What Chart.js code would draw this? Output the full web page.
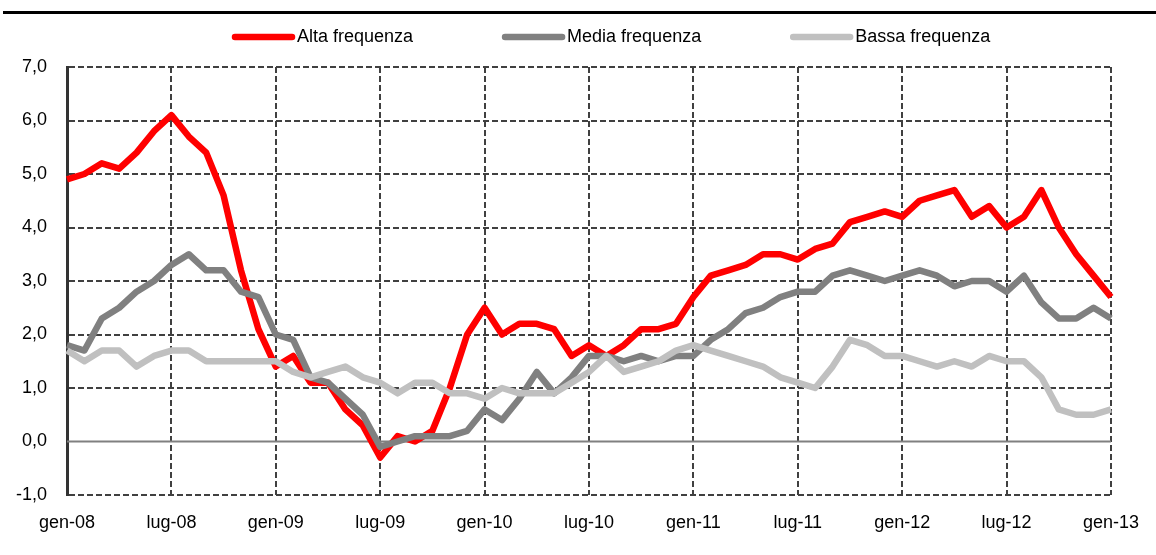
<!DOCTYPE html>
<html lang="it">
<head>
<meta charset="utf-8">
<title>Frequenza</title>
<script src="https://cdn.jsdelivr.net/npm/chart.js@4/dist/chart.umd.min.js"></script>
<style>
    body { margin: 0; background: #fff; }
    #contenitore { position: relative; width: 1156px; height: 555px; }
    #riga-titolo { position: absolute; left: 3px; right: 0; top: 11px; height: 3px; background: #000; }
</style>
</head>
<body>
<div id="contenitore">
    <canvas id="grafico" width="1156" height="555"></canvas>
    <div id="riga-titolo"></div>
</div>
<script>
// Mesi da gen-08 a gen-13
const mesi = ['gen', 'feb', 'mar', 'apr', 'mag', 'giu', 'lug', 'ago', 'set', 'ott', 'nov', 'dic'];
const anni = ['08', '09', '10', '11', '12', '13'];

const altaFrequenza = [
    4.9, 5.0, 5.2, 5.1, 5.4, 5.8, 6.1, 5.7, 5.4, 4.6, 3.2, 2.1,
    1.4, 1.6, 1.1, 1.1, 0.6, 0.3, -0.3, 0.1, 0.0, 0.2, 1.0, 2.0,
    2.5, 2.0, 2.2, 2.2, 2.1, 1.6, 1.8, 1.6, 1.8, 2.1, 2.1, 2.2,
    2.7, 3.1, 3.2, 3.3, 3.5, 3.5, 3.4, 3.6, 3.7, 4.1, 4.2, 4.3,
    4.2, 4.5, 4.6, 4.7, 4.2, 4.4, 4.0, 4.2, 4.7, 4.0, 3.5, 3.1,
    2.7
];
const mediaFrequenza = [
    1.8, 1.7, 2.3, 2.5, 2.8, 3.0, 3.3, 3.5, 3.2, 3.2, 2.8, 2.7,
    2.0, 1.9, 1.2, 1.1, 0.8, 0.5, -0.1, 0.0, 0.1, 0.1, 0.1, 0.2,
    0.6, 0.4, 0.8, 1.3, 0.9, 1.2, 1.6, 1.6, 1.5, 1.6, 1.5, 1.6,
    1.6, 1.9, 2.1, 2.4, 2.5, 2.7, 2.8, 2.8, 3.1, 3.2, 3.1, 3.0,
    3.1, 3.2, 3.1, 2.9, 3.0, 3.0, 2.8, 3.1, 2.6, 2.3, 2.3, 2.5,
    2.3
];
const bassaFrequenza = [
    1.7, 1.5, 1.7, 1.7, 1.4, 1.6, 1.7, 1.7, 1.5, 1.5, 1.5, 1.5,
    1.5, 1.3, 1.2, 1.3, 1.4, 1.2, 1.1, 0.9, 1.1, 1.1, 0.9, 0.9,
    0.8, 1.0, 0.9, 0.9, 0.9, 1.1, 1.3, 1.6, 1.3, 1.4, 1.5, 1.7,
    1.8, 1.7, 1.6, 1.5, 1.4, 1.2, 1.1, 1.0, 1.4, 1.9, 1.8, 1.6,
    1.6, 1.5, 1.4, 1.5, 1.4, 1.6, 1.5, 1.5, 1.2, 0.6, 0.5, 0.5,
    0.6
];

const categorie = [];
anni.forEach((anno, i) => {
    mesi.forEach(mese => {
        if (i < anni.length - 1 || mese === 'gen') categorie.push(mese + '-' + anno);
    });
});

const FONT = '"Liberation Sans", Arial, sans-serif';
const GRIGLIA = '#404040';

// legenda disegnata a mano: linee spesse e testo subito accanto
const legendaLinee = {
    id: 'legendaLinee',
    afterDraw(chart) {
        const ctx = chart.ctx;
        ctx.save();
        ctx.font = '18px ' + FONT;
        ctx.textBaseline = 'middle';
        let x = 235;
        const y = 37;
        chart.data.datasets.forEach(ds => {
            ctx.strokeStyle = ds.borderColor;
            ctx.lineWidth = 6.5;
            ctx.lineCap = 'round';
            ctx.beginPath();
            ctx.moveTo(x, y);
            ctx.lineTo(x + 57, y);
            ctx.stroke();
            ctx.fillStyle = '#000';
            ctx.fillText(ds.label, x + 62, y);
            x += 62 + ctx.measureText(ds.label).width + 92;
        });
        ctx.restore();
    }
};

// linea dello zero continua
const lineaZero = {
    id: 'lineaZero',
    beforeDatasetsDraw(chart) {
        const { ctx, chartArea } = chart;
        const y0 = chart.scales.y.getPixelForValue(0);
        ctx.save();
        ctx.strokeStyle = '#808080';
        ctx.lineWidth = 2;
        ctx.beginPath();
        ctx.moveTo(chartArea.left, y0);
        ctx.lineTo(chartArea.right, y0);
        ctx.stroke();
        ctx.restore();
    }
};

new Chart(document.getElementById('grafico').getContext('2d'), {
    type: 'line',
    data: {
        labels: categorie,
        datasets: [
            { label: 'Alta frequenza', data: altaFrequenza, borderColor: '#FF0000', order: 3 },
            { label: 'Media frequenza', data: mediaFrequenza, borderColor: '#808080', order: 2 },
            { label: 'Bassa frequenza', data: bassaFrequenza, borderColor: '#C0C0C0', order: 1 }
        ]
    },
    options: {
        responsive: false,
        animation: false,
        devicePixelRatio: 1,
        layout: { padding: { left: 16, right: 43, top: 67, bottom: 21 } },
        elements: {
            point: { radius: 0 },
            line: { borderWidth: 6.5, tension: 0, borderJoinStyle: 'round', fill: false }
        },
        plugins: {
            legend: { display: false },
            tooltip: { enabled: false }
        },
        scales: {
            x: {
                offset: false,
                afterFit: s => { s.height = 39; },
                border: { display: false, dash: [6, 3] },
                grid: {
                    drawTicks: false,
                    lineWidth: 2,
                    color: c => (c.index > 0 && c.index % 6 === 0) ? GRIGLIA : 'rgba(0,0,0,0)'
                },
                ticks: {
                    autoSkip: false,
                    maxRotation: 0,
                    padding: 17,
                    color: '#000',
                    font: { family: FONT, size: 18 },
                    callback: (v, i) => i % 6 === 0 ? categorie[i] : ''
                }
            },
            y: {
                min: -1,
                max: 7,
                afterFit: s => { s.width = 51; },
                border: { display: true, color: '#333', width: 3, dash: [6, 3] },
                grid: {
                    drawTicks: false,
                    lineWidth: 2,
                    color: c => c.tick && c.tick.value === 0 ? 'rgba(0,0,0,0)' : GRIGLIA
                },
                ticks: {
                    stepSize: 1,
                    padding: 20,
                    color: '#000',
                    font: { family: FONT, size: 18 },
                    callback: v => v.toFixed(1).replace('.', ',')
                }
            }
        }
    },
    plugins: [lineaZero, legendaLinee]
});
</script>
</body>
</html>
